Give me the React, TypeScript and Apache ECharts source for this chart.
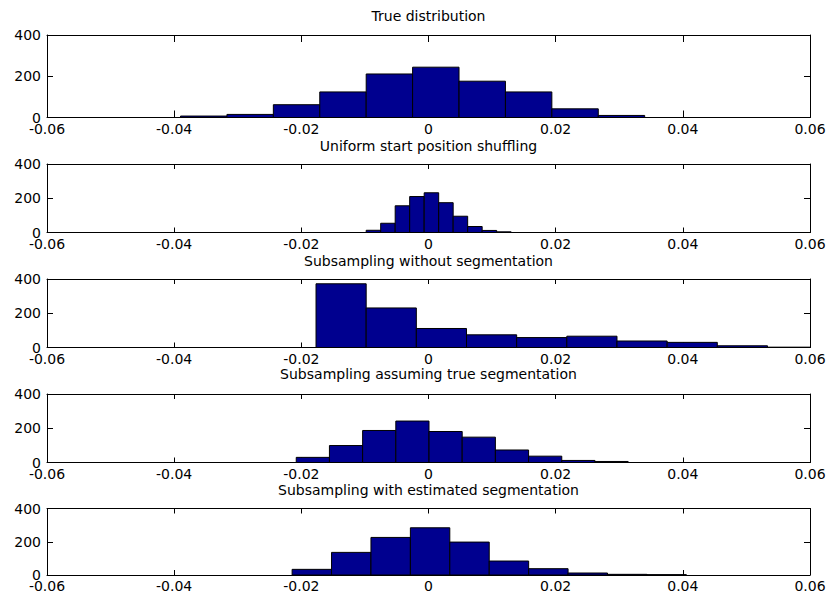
import React, { useEffect, useRef } from "react";
import * as echarts from "echarts";

// Titles of the five panels
const titles = [
  "True distribution",
  "Uniform start position shuffling",
  "Subsampling without segmentation",
  "Subsampling assuming true segmentation",
  "Subsampling with estimated segmentation",
];

// Histogram bin ranges (first edge, last edge) and counts per panel
const trueRange = [-0.039, 0.034];
const trueCounts = [7, 15, 62, 124, 211, 244, 176, 124, 42, 10];

const uniformRange = [-0.0098, 0.013];
const uniformCounts = [13, 54, 156, 210, 232, 174, 95, 35, 12, 4];

const noSegRange = [-0.01769, 0.0612];
const noSegCounts = [372, 231, 111, 74, 58, 66, 38, 30, 10, 2];

const trueSegRange = [-0.0208, 0.0314];
const trueSegCounts = [30, 99, 187, 242, 181, 148, 73, 37, 12, 6];

const estSegRange = [-0.02145, 0.04055];
const estSegCounts = [34, 136, 226, 284, 198, 84, 38, 12, 4, 2];

// Axis ticks
const xMin = -0.06;
const xMax = 0.06;
const xStep = 0.02;
const yMin = 0;
const yMax = 400;
const yStep = 200;

const panels = [
  { range: trueRange, counts: trueCounts },
  { range: uniformRange, counts: uniformCounts },
  { range: noSegRange, counts: noSegCounts },
  { range: trueSegRange, counts: trueSegCounts },
  { range: estSegRange, counts: estSegCounts },
];

// layout (pixels)
const gridTops = [35, 164, 279, 394, 508.5];
const gridHeights = [82.5, 68.5, 68.5, 68.5, 66.5];
const titleTops = [9, 139, 254, 367, 483];
const gridLeft = 47;
const gridRight = 810;

const FONT = "DejaVu Sans";
const BAR = "#00008f";

export default function App() {
  const ref = useRef<HTMLDivElement>(null);
  useEffect(() => {
    if (!ref.current) return;
    const chart = echarts.init(ref.current, null, { renderer: "svg" });
    const grid: any[] = [];
    const xAxis: any[] = [];
    const yAxis: any[] = [];
    const series: any[] = [];
    const graphic: any[] = [];
    panels.forEach((p, i) => {
      grid.push({
        left: gridLeft,
        width: gridRight - gridLeft,
        top: gridTops[i],
        height: gridHeights[i],
        containLabel: false,
      });
      const tickLen = i === 0 ? 7 : 5;
      // bottom x axis with labels
      xAxis.push({
        type: "value",
        gridIndex: i,
        position: "bottom",
        min: xMin,
        max: xMax,
        interval: xStep,
        splitLine: { show: false },
        axisLine: { show: true, onZero: false, lineStyle: { color: "#000", width: 1 } },
        axisTick: { show: true, inside: true, length: tickLen, lineStyle: { color: "#000" } },
        axisLabel: {
          show: true,
          margin: 4,
          fontFamily: FONT,
          fontSize: 14,
          color: "#000",
          showMinLabel: true,
          showMaxLabel: true,
          formatter: (v: number) => (Math.abs(v) < 1e-9 ? "0" : v.toFixed(2)),
        },
      });
      // top x axis (box + ticks)
      xAxis.push({
        type: "value",
        gridIndex: i,
        position: "top",
        min: xMin,
        max: xMax,
        interval: xStep,
        splitLine: { show: false },
        axisLine: { show: true, onZero: false, lineStyle: { color: "#000", width: 1 } },
        axisTick: { show: true, inside: true, length: tickLen, lineStyle: { color: "#000" } },
        axisLabel: { show: false },
      });
      yAxis.push({
        type: "value",
        gridIndex: i,
        position: "left",
        min: yMin,
        max: yMax,
        interval: yStep,
        splitLine: { show: false },
        axisLine: { show: true, onZero: false, lineStyle: { color: "#000", width: 1 } },
        axisTick: { show: true, inside: true, length: 6, lineStyle: { color: "#000" } },
        axisLabel: {
          show: true,
          margin: 6,
          fontFamily: FONT,
          fontSize: 14,
          color: "#000",
          showMinLabel: true,
          showMaxLabel: true,
        },
      });
      yAxis.push({
        type: "value",
        gridIndex: i,
        position: "right",
        min: yMin,
        max: yMax,
        interval: yStep,
        splitLine: { show: false },
        axisLine: { show: true, onZero: false, lineStyle: { color: "#000", width: 1 } },
        axisTick: { show: true, inside: true, length: 6, lineStyle: { color: "#000" } },
        axisLabel: { show: false },
      });
      const n = p.counts.length;
      const w = (p.range[1] - p.range[0]) / n;
      const data = p.counts.map((c, k) => [p.range[0] + k * w, p.range[0] + (k + 1) * w, c]);
      series.push({
        type: "custom",
        xAxisIndex: i * 2,
        yAxisIndex: i * 2,
        data,
        encode: { x: [0, 1], y: 2 },
        renderItem: (params: any, api: any) => {
          const x0 = Math.max(api.value(0), xMin);
          const x1 = Math.min(api.value(1), xMax);
          const y = api.value(2);
          const a = api.coord([x0, y]);
          const b = api.coord([x1, 0]);
          return {
            type: "rect",
            shape: { x: a[0], y: a[1], width: b[0] - a[0], height: b[1] - a[1] },
            style: { fill: BAR, stroke: "#000", lineWidth: 1 },
          };
        },
        z: 1,
      });
      graphic.push({
        type: "text",
        x: (gridLeft + gridRight) / 2,
        y: titleTops[i],
        style: {
          text: titles[i],
          fontFamily: FONT,
          fontSize: 14,
          fill: "#000",
          textAlign: "center",
          textVerticalAlign: "top",
        },
      });
    });
    chart.setOption({
      animation: false,
      backgroundColor: "#fff",
      grid,
      xAxis,
      yAxis,
      series,
      graphic,
    });
    return () => chart.dispose();
  }, []);
  return (
    <div
      ref={ref}
      style={{ position: "absolute", left: 0, top: 0, width: 831, height: 602 }}
    />
  );
}
